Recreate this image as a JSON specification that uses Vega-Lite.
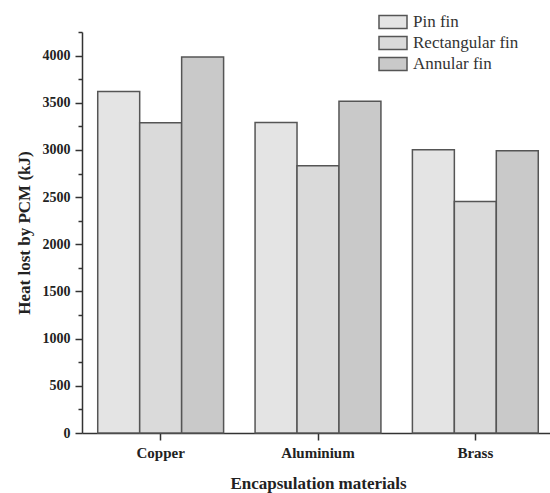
{
  "$schema": "https://vega.github.io/schema/vega-lite/v6.json",
  "autosize": "none",
  "width": 468,
  "height": 401,
  "padding": {"left": 82, "top": 32, "right": 0, "bottom": 60},
  "background": "white",
  "data": {
    "values": [
      {"material": "Copper", "fin": "Pin fin", "value": 3620},
      {"material": "Copper", "fin": "Rectangular fin", "value": 3287},
      {"material": "Copper", "fin": "Annular fin", "value": 3986},
      {"material": "Aluminium", "fin": "Pin fin", "value": 3292},
      {"material": "Aluminium", "fin": "Rectangular fin", "value": 2833},
      {"material": "Aluminium", "fin": "Annular fin", "value": 3515},
      {"material": "Brass", "fin": "Pin fin", "value": 3003},
      {"material": "Brass", "fin": "Rectangular fin", "value": 2454},
      {"material": "Brass", "fin": "Annular fin", "value": 2992}
    ]
  },
  "mark": {"type": "bar", "stroke": "#555555", "strokeWidth": 1.5},
  "encoding": {
    "x": {
      "field": "material",
      "type": "nominal",
      "sort": ["Copper", "Aluminium", "Brass"],
      "scale": {"range": [0, 472], "paddingInner": 0, "paddingOuter": 0},
      "axis": {
        "title": "Encapsulation materials",
        "labelAngle": 0,
        "labelFont": "Liberation Serif",
        "labelFontWeight": "bold",
        "labelFontSize": 15,
        "labelColor": "#222222",
        "labelPadding": 5,
        "tickSize": 7,
        "tickWidth": 1.5,
        "tickColor": "#333333",
        "domainColor": "#333333",
        "domainWidth": 1.5,
        "titleFont": "Liberation Serif",
        "titleFontWeight": "bold",
        "titleFontSize": 17,
        "titleColor": "#222222",
        "titlePadding": 15
      }
    },
    "xOffset": {
      "field": "fin",
      "sort": ["Pin fin", "Rectangular fin", "Annular fin"],
      "scale": {"paddingInner": 0, "paddingOuter": 0.375}
    },
    "y": {
      "field": "value",
      "type": "quantitative",
      "scale": {"domain": [0, 4250], "nice": false},
      "axis": {
        "title": "Heat lost by PCM (kJ)",
        "values": [0, 250, 500, 750, 1000, 1250, 1500, 1750, 2000, 2250, 2500, 2750, 3000, 3250, 3500, 3750, 4000, 4250],
        "labelExpr": "datum.value % 500 === 0 ? datum.label : ''",
        "format": "d",
        "grid": false,
        "labelFont": "Liberation Serif",
        "labelFontWeight": "bold",
        "labelFontSize": 14,
        "labelColor": "#222222",
        "labelPadding": 5,
        "tickSize": {"condition": {"test": "datum.value % 500 !== 0", "value": 4}, "value": 7},
        "tickWidth": 1.5,
        "tickColor": "#333333",
        "domainColor": "#333333",
        "domainWidth": 1.5,
        "titleFont": "Liberation Serif",
        "titleFontWeight": "bold",
        "titleFontSize": 17,
        "titleColor": "#222222",
        "titlePadding": 9
      }
    },
    "fill": {
      "field": "fin",
      "type": "nominal",
      "sort": ["Pin fin", "Rectangular fin", "Annular fin"],
      "scale": {"domain": ["Pin fin", "Rectangular fin", "Annular fin"], "range": ["#e4e4e4", "#dadada", "#c9c9c9"]},
      "legend": {
        "title": null,
        "orient": "none",
        "legendX": 301,
        "legendY": -20,
        "symbolType": "M-1.556,-0.722H1.556V0.722H-1.556Z",
        "symbolSize": 324,
        "symbolStrokeColor": "#555555",
        "symbolStrokeWidth": 1.5,
        "labelFont": "Liberation Serif",
        "labelFontSize": 17,
        "labelColor": "#333333",
        "labelOffset": 10,
        "rowPadding": 1
      }
    }
  },
  "config": {
    "view": {"stroke": null},
    "font": "Liberation Serif"
  }
}
